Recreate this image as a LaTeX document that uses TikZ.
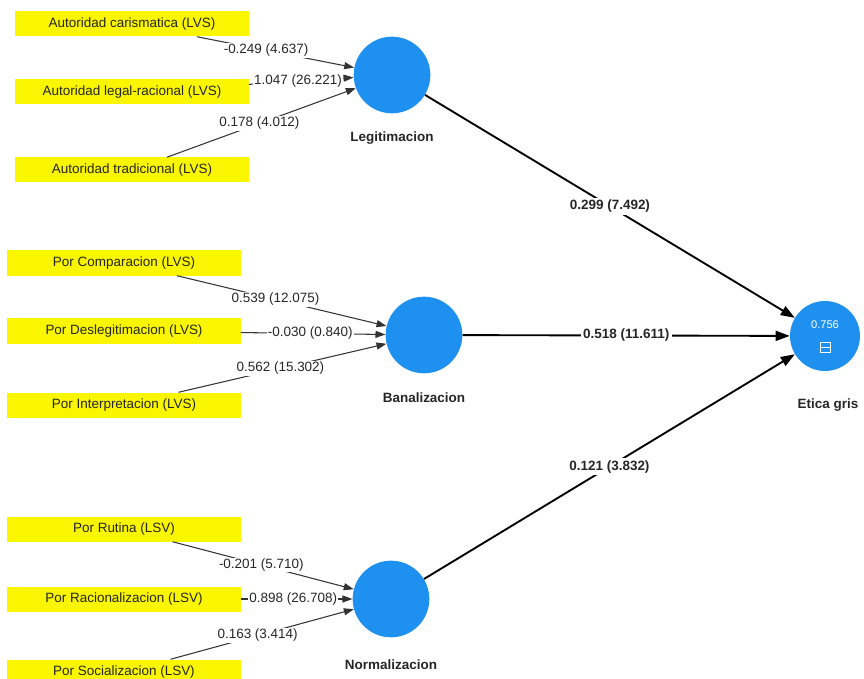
\documentclass[tikz,border=0pt]{standalone}
\usepackage{fontspec}
\setmainfont{Liberation Sans}
\usetikzlibrary{arrows.meta}

\definecolor{lvblue}{RGB}{30,144,240}
\definecolor{indyellow}{RGB}{250,246,0}

\begin{document}
\begin{tikzpicture}[
  x=0.03cm, y=-0.03cm,
  font=\fontsize{11.5}{13}\selectfont,
  ind/.style={rectangle, fill=indyellow, minimum width=6.99cm, minimum height=0.75cm, inner sep=0pt, text=black!85},
  lv/.style={circle, fill=lvblue, minimum size=2.3cm, inner sep=0pt},
  lvname/.style={font=\fontsize{11.5}{13}\selectfont\bfseries, text=black!85},
  load/.style={draw=black!80, line width=0.9pt, -{Triangle[length=8.5pt,width=6pt]}},
  inner/.style={draw=black, line width=1.6pt, -{Triangle[length=12pt,width=8.5pt]}},
  wt/.style={fill=white, inner sep=1pt, text=black!85},
  wtb/.style={wt, inner sep=2pt, font=\fontsize{11.5}{13}\selectfont\bfseries}
]
\useasboundingbox (0,0) rectangle (864,679);

% latent variables
\node[lv] (leg) at (392, 75)  {};
\node[lv] (ban) at (424, 335) {};
\node[lv] (nor) at (391, 599) {};
\node[lv, minimum size=2.1cm] (eg) at (825, 336) {};

\node[lvname] (legname) at (392, 138) {Legitimacion};
\node[lvname] (banname) at (424, 398) {Banalizacion};
\node[lvname] (norname) at (391, 665) {Normalizacion};
\node[lvname] (egname)  at (828, 405) {Etica gris};

\node[text=white, font=\fontsize{9.5}{11}\selectfont] (r2) at (825, 325) {0.756};
\draw[white, line width=0.6pt] (820, 342) rectangle (830, 352);
\draw[white, line width=0.6pt] (820, 347) -- (830, 347);

% indicators
\node[ind] (carism) at (132, 24)  {Autoridad carismatica (LVS)};
\node[ind] (legal)  at (132, 92)  {Autoridad legal-racional (LVS)};
\node[ind] (tradic) at (132, 170) {Autoridad tradicional (LVS)};

\node[ind] (compar) at (124, 263) {Por Comparacion (LVS)};
\node[ind] (desleg) at (124, 331) {Por Deslegitimacion (LVS)};
\node[ind] (interp) at (124, 405) {Por Interpretacion (LVS)};

\node[ind] (rutina) at (124, 529) {Por Rutina (LSV)};
\node[ind] (racion) at (124, 599) {Por Racionalizacion (LSV)};
\node[ind] (social) at (124, 672) {Por Socializacion (LSV)};

% outer weights
\draw[load] (carism) -- node[wt, pos=0.44] {-0.249 (4.637)} (leg);
\draw[load] (legal)  -- node[wt, pos=0.47] {1.047 (26.221)} (leg);
\draw[load] (tradic) -- node[wt, pos=0.49] {0.178 (4.012)} (leg);

\draw[load] (compar) -- node[wt, pos=0.47] {0.539 (12.075)} (ban);
\draw[load] (desleg) -- node[wt, pos=0.48] {-0.030 (0.840)} (ban);
\draw[load] (interp) -- node[wt, pos=0.49] {0.562 (15.302)} (ban);

\draw[load] (rutina) -- node[wt, pos=0.49] {-0.201 (5.710)} (nor);
\draw[load] (racion) -- node[wt, pos=0.47] {0.898 (26.708)} (nor);
\draw[load] (social) -- node[wt, pos=0.475] {0.163 (3.414)} (nor);

% path coefficients
\draw[inner] (leg) -- node[wtb, pos=0.5] {0.299 (7.492)} (eg);
\draw[inner] (ban) -- node[wtb, pos=0.5] {0.518 (11.611)} (eg);
\draw[inner] (nor) -- node[wtb, pos=0.5] {0.121 (3.832)} (eg);
\end{tikzpicture}
\end{document}
